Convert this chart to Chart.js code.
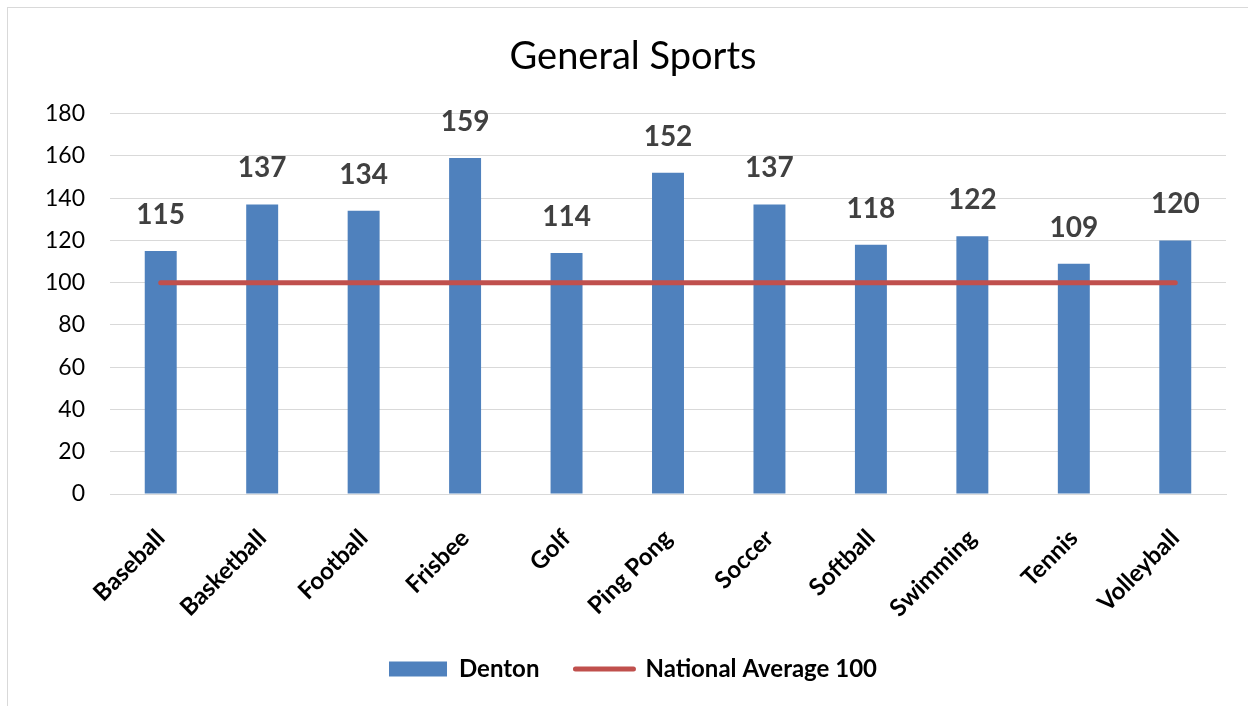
<!DOCTYPE html>
<html lang="en">
<head>
  <meta charset="UTF-8" />
  <title>General Sports</title>
  <style>
    * {
      margin: 0;
      padding: 0;
      box-sizing: border-box;
    }

    body {
      width: 1248px;
      height: 706px;
      overflow: hidden;
      background: #fff;
      position: relative;
    }

    /* light frame around the chart, only top/left edges show */
    .frame {
      position: absolute;
      left: 7px;
      top: 7px;
      width: 1280px;
      height: 740px;
      border: 1px solid #d9d9d9;
    }

    .chart-box {
      position: absolute;
      left: 0;
      top: 0;
      width: 1248px;
      height: 706px;
    }
  </style>
</head>
<body>
  <div class="frame"></div>
  <div class="chart-box">
    <canvas id="sportsChart" width="1248" height="706"></canvas>
  </div>

  <script src="https://cdn.jsdelivr.net/npm/chart.js"></script>
  <script>
    // data
    const sports = ['Baseball', 'Basketball', 'Football', 'Frisbee', 'Golf', 'Ping Pong',
                    'Soccer', 'Softball', 'Swimming', 'Tennis', 'Volleyball'];
    const dentonValues = [115, 137, 134, 159, 114, 152, 137, 118, 122, 109, 120];
    const nationalAverage = [100, 100, 100, 100, 100, 100, 100, 100, 100, 100, 100];
    const yTicks = [0, 20, 40, 60, 80, 100, 120, 140, 160, 180];

    const FONT = 'Lato, "Open Sans", sans-serif';

    // values printed above each bar
    const barLabels = {
      id: 'barLabels',
      afterDatasetsDraw(chart) {
        const ctx = chart.ctx;
        const meta = chart.getDatasetMeta(0);
        ctx.save();
        ctx.font = 'bold 28px ' + FONT;
        ctx.fillStyle = '#404040';
        ctx.textAlign = 'center';
        ctx.textBaseline = 'alphabetic';
        meta.data.forEach((bar, i) => {
          ctx.fillText(dentonValues[i], bar.x, bar.y - 27);
        });
        ctx.restore();
      }
    };

    const ctx = document.getElementById('sportsChart').getContext('2d');
    const sportsChart = new Chart(ctx, {
      type: 'bar',
      data: {
        labels: sports,
        datasets: [{
          label: 'Denton',
          data: dentonValues,
          backgroundColor: '#4f81bd',
          borderWidth: 0,
          barPercentage: 0.315,
          categoryPercentage: 1,
          order: 1
        },
        {
          type: 'line',
          label: 'National Average 100',
          data: nationalAverage,
          borderColor: '#c0504d',
          backgroundColor: '#c0504d',
          borderWidth: 5,
          borderCapStyle: 'round',
          pointRadius: 0,
          fill: false,
          order: 0
        }]
      },
      options: {
        responsive: false,
        animation: false,
        layout: {
          padding: { left: 40, right: 22, top: 0, bottom: 15 }
        },
        plugins: {
          title: {
            display: true,
            text: 'General Sports',
            color: '#000',
            font: { family: FONT, size: 38, weight: 'normal' },
            padding: { top: 34, bottom: 34 }
          },
          legend: {
            position: 'bottom',
            labels: {
              usePointStyle: true,
              pointStyleWidth: 58,
              boxHeight: 15,
              padding: 36,
              color: '#000',
              font: { family: FONT, size: 24, weight: 'bold' },
              generateLabels(chart) {
                return chart.data.datasets.map((ds, i) => {
                  const isLine = ds.type === 'line';
                  return {
                    text: ds.label,
                    datasetIndex: i,
                    fillStyle: isLine ? ds.borderColor : ds.backgroundColor,
                    strokeStyle: isLine ? ds.borderColor : ds.backgroundColor,
                    lineWidth: isLine ? 5 : 0,
                    lineCap: 'round',
                    pointStyle: isLine ? 'line' : 'rect',
                    hidden: false
                  };
                });
              }
            }
          },
          tooltip: { enabled: false }
        },
        scales: {
          x: {
            grid: { display: false },
            border: { color: '#d9d9d9', width: 1 },
            ticks: {
              color: '#000',
              font: { family: FONT, size: 24, weight: 'bold' },
              minRotation: 45,
              maxRotation: 45,
              padding: 22
            },
            afterFit(scale) {
              scale.height = 127;
            }
          },
          y: {
            min: 0,
            max: 180,
            grid: { color: '#d9d9d9', drawTicks: false },
            border: { display: false },
            afterBuildTicks(scale) {
              scale.ticks = yTicks.map(v => ({ value: v }));
            },
            ticks: {
              color: '#000',
              font: { family: FONT, size: 23 },
              padding: 25
            },
            afterFit(scale) {
              scale.width = 70;
            }
          }
        }
      },
      plugins: [barLabels]
    });
  </script>
</body>
</html>
